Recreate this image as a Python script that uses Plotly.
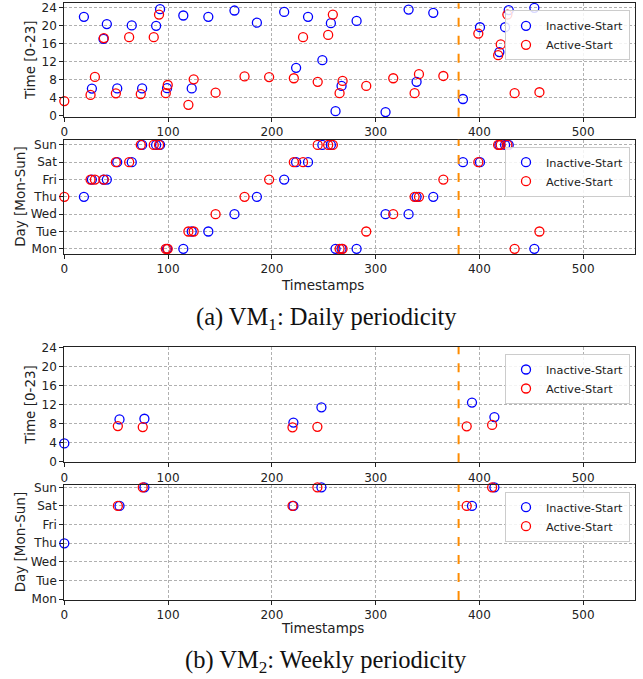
import plotly.graph_objects as go

W, H = 643, 679

day_labels = ["Mon", "Tue", "Wed", "Thu", "Fri", "Sat", "Sun"]
time_ticks = [0, 4, 8, 12, 16, 20, 24]
x_ticks = [0, 100, 200, 300, 400, 500]
split_ts = 380

# VM1 (daily periodicity)
vm1_inactive_ts = [18.9, 26.6, 37.8, 41, 51, 65, 75, 88.5, 92.3, 99, 114.7, 122.8, 138.8, 164,
                   185.6, 211.9, 223.4, 234.9, 248.7, 256.9, 261.4, 267.2, 281.7, 309.6, 331.8,
                   339.5, 355.6, 384.2, 400.6, 419.3, 424.8, 428.3, 453]
vm1_inactive_hour = [21.9, 6.0, 17.0, 20.3, 6.05, 20.0, 6.05, 19.9, 23.6, 6.1, 22.2, 6.05, 21.9, 23.3,
                     20.6, 23.0, 10.6, 21.9, 12.3, 20.5, 1.0, 6.6, 21.0, 0.8, 23.5,
                     7.5, 22.8, 3.7, 19.6, 14.1, 19.6, 23.4, 23.9]
vm1_inactive_day = [3, 4, 4, 4, 5, 5, 6, 6, 6, 0, 0, 1, 1, 2,
                    3, 4, 5, 5, 6, 6, 0, 0, 0, 2, 2,
                    3, 3, 5, 5, 6, 6, 6, 0]

vm1_active_ts = [0, 25.3, 29.5, 38.1, 49.7, 62.5, 73.7, 86.2, 91.3, 97.8, 99.7, 119.6, 124.7, 145.8,
                 173.7, 197.4, 221.2, 230.1, 244.2, 254.3, 258.8, 265.3, 268.2, 291, 317, 337.6,
                 341.8, 365.3, 399, 418.1, 420.6, 427, 434, 457.9]
vm1_active_hour = [3.25, 4.6, 8.6, 17.2, 4.95, 17.4, 4.8, 17.4, 22.4, 5.0, 6.8, 2.4, 8.05, 5.1,
                   8.7, 8.55, 8.3, 17.4, 7.5, 17.9, 22.4, 5.0, 7.7, 6.6, 8.3, 5.0,
                   9.2, 8.8, 18.2, 13.4, 15.8, 22.4, 5.0, 5.2]
vm1_active_day = [3, 4, 4, 4, 5, 5, 6, 6, 6, 0, 0, 1, 1, 2,
                  3, 4, 5, 5, 6, 6, 6, 0, 0, 1, 2, 3,
                  3, 4, 5, 6, 6, 6, 0, 1]

# VM2 (weekly periodicity)
vm2_inactive_ts = [0, 53.2, 77.2, 220.8, 247.8, 392.9, 414.5]
vm2_inactive_hour = [3.9, 8.96, 9.1, 8.3, 11.5, 12.5, 9.45]
vm2_inactive_day = [3, 5, 6, 5, 6, 5, 6]

vm2_active_ts = [51.6, 75.6, 219.9, 243.9, 387.8, 412.3]
vm2_active_hour = [7.56, 7.35, 7.3, 7.4, 7.5, 7.8]
vm2_active_day = [5, 6, 5, 6, 5, 6]

FONT = "DejaVu Sans"
BLUE, RED = "#0000ff", "#ff0000"

def px_x(p):
    return p / W

def px_y(p):
    return 1 - p / H

x_dom = [px_x(64.3), px_x(635)]
panels = [
    # (top px, bottom px, y range, kind)
    (3.3, 116.7, [-0.22, 24.9], "time"),
    (139.7, 254.0, [-0.3, 6.3], "day"),
    (347.0, 462.3, [-0.07, 24.2], "time"),
    (484.7, 600.0, [-0.04, 6.14], "day"),
]

fig = go.Figure()

data = [
    (vm1_inactive_ts, vm1_inactive_hour, vm1_active_ts, vm1_active_hour),
    (vm1_inactive_ts, vm1_inactive_day, vm1_active_ts, vm1_active_day),
    (vm2_inactive_ts, vm2_inactive_hour, vm2_active_ts, vm2_active_hour),
    (vm2_inactive_ts, vm2_inactive_day, vm2_active_ts, vm2_active_day),
]

axis_common = dict(
    showline=True, linecolor="#222", linewidth=1.1, mirror=True,
    showgrid=True, gridcolor="#b0b0b0", griddash="3px,2px", gridwidth=0.8,
    ticks="outside", ticklen=4, tickcolor="#222", tickwidth=1,
    tickfont=dict(family=FONT, size=12, color="#222"),
    zeroline=False, automargin=False,
)

for i, ((top, bot, yr, kind), (its, iv, ats, av)) in enumerate(zip(panels, data)):
    n = i + 1
    xa = "x" if n == 1 else f"x{n}"
    ya = "y" if n == 1 else f"y{n}"
    lg = "legend" if n == 1 else f"legend{n}"
    mk = dict(symbol="circle-open", size=9, line=dict(width=1.3))
    fig.add_trace(go.Scatter(x=its, y=iv, mode="markers", name="Inactive-Start",
                             marker=dict(color=BLUE, **mk), xaxis=xa, yaxis=ya,
                             legend=lg, cliponaxis=False))
    fig.add_trace(go.Scatter(x=ats, y=av, mode="markers", name="Active-Start",
                             marker=dict(color=RED, **mk), xaxis=xa, yaxis=ya,
                             legend=lg, cliponaxis=False))
    xkey = "xaxis" if n == 1 else f"xaxis{n}"
    ykey = "yaxis" if n == 1 else f"yaxis{n}"
    fig.update_layout(**{
        xkey: dict(domain=x_dom, range=[0, 550], tickvals=x_ticks, anchor=ya, **axis_common),
        ykey: dict(domain=[px_y(bot), px_y(top)], range=yr, anchor=xa,
                   tickvals=time_ticks if kind == "time" else list(range(7)),
                   ticktext=None if kind == "time" else day_labels,
                   **axis_common),
    })
    fig.add_shape(type="line", xref=xa, yref=f"{ya} domain", x0=split_ts, x1=split_ts,
                  y0=0, y1=1, line=dict(color="#ff8c00", width=2, dash="dash"))
    fig.update_layout(**{lg: dict(
        x=px_x(630), y=px_y(top + 7), xanchor="right", yanchor="top",
        bgcolor="rgba(255,255,255,0.85)", bordercolor="#cccccc", borderwidth=1,
        font=dict(family=FONT, size=11.3, color="#222"), tracegroupgap=0,
    )})
    # y-axis title
    fig.add_annotation(text="Time [0-23]" if kind == "time" else "Day [Mon-Sun]",
                       xref="paper", yref="paper", x=px_x(30 if kind == "time" else 20),
                       y=px_y((top + bot) / 2), textangle=-90, showarrow=False,
                       xanchor="center", yanchor="middle",
                       font=dict(family=FONT, size=13.5, color="#222"))

for yc in (285, 628):
    fig.add_annotation(text="Timestamps", xref="paper", yref="paper", x=px_x(322), y=px_y(yc),
                       showarrow=False, xanchor="center", yanchor="middle",
                       font=dict(family=FONT, size=13.5, color="#222"))

for txt, yc in (("(a) VM<sub>1</sub>: Daily periodicity", 318),
                ("(b) VM<sub>2</sub>: Weekly periodicity", 661)):
    fig.add_annotation(text=txt, xref="paper", yref="paper", x=px_x(326), y=px_y(yc),
                       showarrow=False, xanchor="center", yanchor="middle",
                       font=dict(family="Liberation Serif", size=24.5, color="#111"))

fig.update_layout(width=W, height=H, margin=dict(l=0, r=0, t=0, b=0),
                  plot_bgcolor="white", paper_bgcolor="white", showlegend=True)

fig.write_html("out.html", config={"displayModeBar": False},
               post_script="document.body.style.margin='0';document.body.style.padding='0';"
                           "document.documentElement.style.overflow='hidden';")
